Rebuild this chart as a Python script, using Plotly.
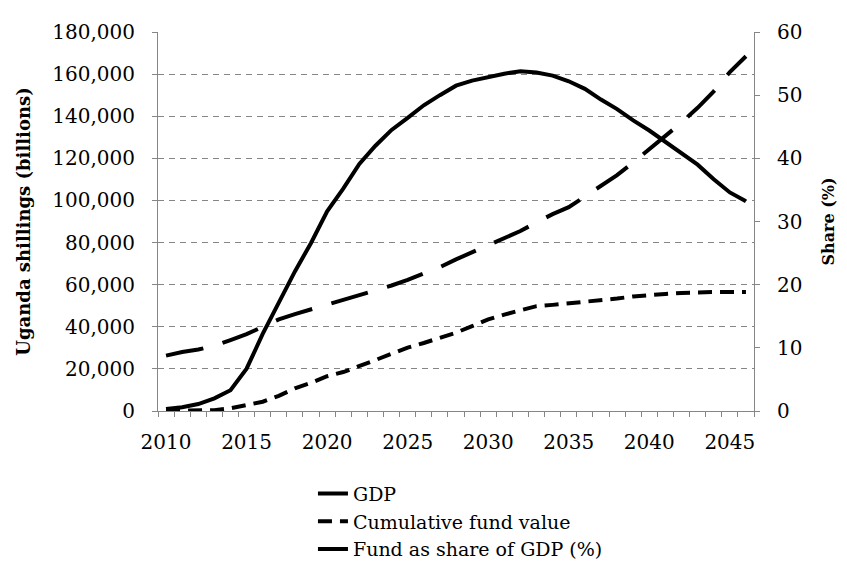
import plotly.graph_objects as go

years = list(range(2010, 2047))

gdp = [26300, 28000, 29200, 31000, 33700, 36500, 40000, 43500, 46000, 48200,
       50500, 52700, 55000, 57200, 59600, 62300, 65200, 68300, 72000, 75500,
       78900, 82000, 85500, 89600, 93500, 96800, 101800, 106600, 112000, 118000,
       124200, 130300, 137000, 144000, 151800, 161000, 168500]

cum_fund = [0, 50, 100, 400, 1300, 2700, 4400, 7200, 10800, 13400,
            16500, 18500, 21600, 24200, 27200, 30100, 32300, 34800, 37200, 40300,
            43500, 45800, 48000, 49800, 50400, 51100, 51800, 52500, 53400, 54400,
            55200, 55600, 56100, 56400, 56500, 56500, 56500]

share = [0.3, 0.6, 1.1, 2.0, 3.3, 6.7, 12.2, 17.2, 22.1, 26.6,
         31.6, 35.2, 39.1, 42.0, 44.5, 46.4, 48.4, 50.0, 51.5, 52.3,
         52.9, 53.4, 53.8, 53.6, 53.1, 52.2, 51.0, 49.3, 47.8, 46.0,
         44.4, 42.6, 40.9, 39.0, 36.7, 34.6, 33.2]

left_ticks = [0, 20000, 40000, 60000, 80000, 100000, 120000, 140000, 160000, 180000]
left_tick_text = ["0", "20,000", "40,000", "60,000", "80,000", "100,000",
                  "120,000", "140,000", "160,000", "180,000"]
right_ticks = [0, 10, 20, 30, 40, 50, 60]
x_label_years = [2010, 2015, 2020, 2025, 2030, 2035, 2040, 2045]

FONT = "DejaVu Serif"
AX = "#868686"

fig = go.Figure()
fig.add_trace(go.Scatter(
    x=years, y=gdp, name="GDP", mode="lines",
    line=dict(color="black", width=4, dash="38px,20px")))
fig.add_trace(go.Scatter(
    x=years, y=cum_fund, name="Cumulative fund value", mode="lines",
    line=dict(color="black", width=4, dash="14px,8px")))
fig.add_trace(go.Scatter(
    x=years, y=share, name="Fund as share of GDP (%)", mode="lines", yaxis="y2",
    line=dict(color="black", width=4)))

fig.update_layout(
    width=847, height=580, autosize=False,
    margin=dict(l=150, r=101, t=20, b=177),
    paper_bgcolor="white", plot_bgcolor="white",
    font=dict(family=FONT, size=20, color="black"),
    showlegend=True,
    legend=dict(x=0.26, y=-0.168, xanchor="left", yanchor="top",
                bgcolor="rgba(0,0,0,0)", font=dict(family=FONT, size=19),
                tracegroupgap=0, itemwidth=30),
    xaxis=dict(
        range=[2009.5, 2046.5], tickmode="array", tickvals=x_label_years,
        ticks="", showline=True, linecolor=AX, linewidth=1, showgrid=False,
        zeroline=False, ticklabelstandoff=13,
        tickfont=dict(family=FONT, size=20),
        minor=dict(ticks="outside", tick0=2009.5, dtick=1, ticklen=5,
                   tickcolor=AX, tickwidth=1, showgrid=False)),
    yaxis=dict(
        range=[0, 180000], tickmode="array", tickvals=left_ticks,
        ticktext=left_tick_text, ticks="outside", ticklen=5, tickcolor=AX,
        showline=True, linecolor=AX, linewidth=1, ticklabelstandoff=13,
        showgrid=True, gridcolor=AX, gridwidth=1, griddash="6px,5px",
        zeroline=False, tickfont=dict(family=FONT, size=20),
        title=dict(text="<b>Uganda shillings (billions)</b>",
                   font=dict(family=FONT, size=18), standoff=16)),
    yaxis2=dict(
        overlaying="y", side="right", range=[0, 60], tickmode="array",
        tickvals=right_ticks, ticks="outside", ticklen=5, tickcolor=AX,
        showline=True, linecolor=AX, linewidth=1, showgrid=False,
        ticklabelstandoff=13,
        zeroline=False, tickfont=dict(family=FONT, size=20),
        title=dict(text="<b>Share (%)</b>",
                   font=dict(family=FONT, size=16), standoff=21)),
)

fig.write_html("out.html")
